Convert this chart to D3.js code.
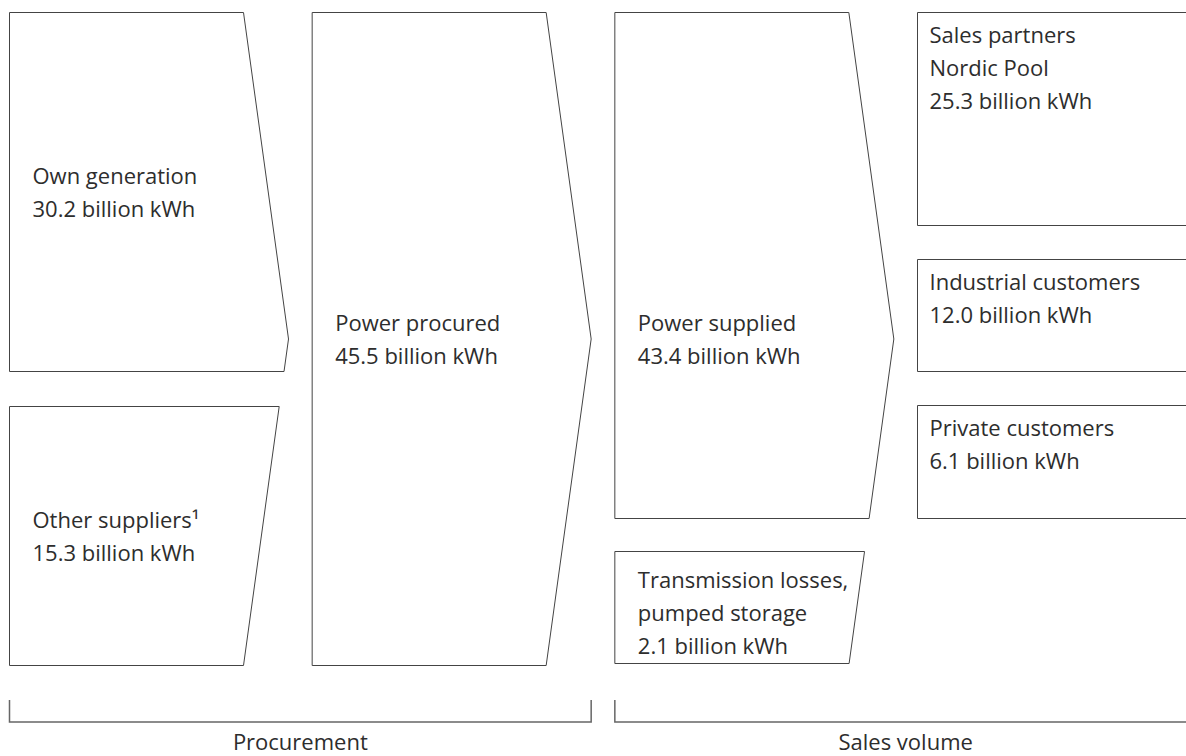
<!DOCTYPE html>
<html>
<head>
<meta charset="utf-8">
<script src="https://cdn.jsdelivr.net/npm/d3@7"></script>
<style>
	body { margin: 0; background: #fff; }
	.box { fill: #fff; stroke: #444; stroke-width: 1px; }
	.bracket { fill: none; stroke: #666; stroke-width: 1.5px; }
	text { font-family: "Open Sans", "Noto Sans", sans-serif; font-size: 22px; fill: #2d2d2d; }
</style>
</head>
<body>
<script>

// data
var nodeLabels = [
	["Own generation"],
	["Other suppliers\u00b9"],
	["Power procured"],
	["Power supplied"],
	["Transmission losses,", "pumped storage"],
	["Sales partners", "Nordic Pool"],
	["Industrial customers"],
	["Private customers"]
];
var nodeValues = [30.2, 15.3, 45.5, 43.4, 2.1, 25.3, 12.0, 6.1];
var groupLabels = ["Procurement", "Sales volume"];
var unit = " billion kWh";

// layout (design grid, not data); tm = middle of the text block
var layout = [
	{ col: 0, y0: 0,   y1: 359, tm: 179.5, shape: "chevron" },
	{ col: 0, y0: 394, y1: 653, tm: 523.5, shape: "chevron" },
	{ col: 1, y0: 0,   y1: 653, tm: 326.5, shape: "chevron" },
	{ col: 2, y0: 0,   y1: 506, tm: 326.5, shape: "chevron" },
	{ col: 2, y0: 539, y1: 651, tm: 600,   shape: "chevron" },
	{ col: 3, y0: 0,   y1: 213, shape: "rect" },
	{ col: 3, y0: 247, y1: 359, shape: "rect" },
	{ col: 3, y0: 393, y1: 506, shape: "rect" }
];
var groupCols = [0, 2];

var width = 1186,
	height = 756,
	bodyW = 234,
	tipDx = 45,
	lineH = 33,
	fmt = d3.format(".1f");

var x = d3.scaleLinear().domain([0, 3]).range([9.5, 917.5]);
var y = d3.scaleLinear().domain([0, 653]).range([12.5, 665.5]);
var tipY = y(653 / 2),
	halfH = y(653) - tipY;

function rightEdge(x0, yy) {
	return x0 + bodyW + tipDx * (1 - Math.abs(yy - tipY) / halfH);
}

var nodes = nodeValues.map(function(v, i) {
	var l = layout[i];
	return { lines: nodeLabels[i], value: v, col: l.col, y0: l.y0, y1: l.y1, tm: l.tm, shape: l.shape };
});

var svg = d3.select("body").append("svg")
	.attr("width", width)
	.attr("height", height);

var line = d3.line();

svg.selectAll("path.box")
	.data(nodes)
  .enter().append("path")
	.attr("class", "box")
	.attr("d", function(d) {
		var x0 = x(d.col), top = y(d.y0), bot = y(d.y1), pts;
		if (d.shape === "rect") {
			pts = [[x0, top], [x0 + 320, top], [x0 + 320, bot], [x0, bot]];
		} else {
			pts = [[x0, top], [rightEdge(x0, top), top]];
			if (top < tipY && bot > tipY) pts.push([x0 + bodyW + tipDx, tipY]);
			pts.push([rightEdge(x0, bot), bot], [x0, bot]);
		}
		return line(pts) + "Z";
	});

var labels = svg.selectAll("text.node")
	.data(nodes)
  .enter().append("text")
	.attr("class", "node")
	.attr("x", function(d) { return x(d.col) + (d.shape === "rect" ? 12 : 23); })
	.attr("y", function(d) {
		var n = d.lines.length + 1;
		if (d.shape === "rect") return y(d.y0) + 30;
		return y(d.tm) - (n - 1) * lineH / 2 + 8;
	});

labels.selectAll("tspan")
	.data(function(d) { return d.lines.concat([fmt(d.value) + unit]); })
  .enter().append("tspan")
	.attr("x", function() { return d3.select(this.parentNode).attr("x"); })
	.attr("dy", function(d, i) { return i === 0 ? 0 : lineH; })
	.text(function(d) { return d; });

// brackets under the two groups
var bracketW = x(1) - x(0) + bodyW + tipDx;
var groups = groupLabels.map(function(g, i) { return { label: g, x0: x(groupCols[i]) }; });

svg.selectAll("path.bracket")
	.data(groups)
  .enter().append("path")
	.attr("class", "bracket")
	.attr("d", function(d) {
		return "M" + d.x0 + ",700 V722 H" + (d.x0 + bracketW) + " V700";
	});

svg.selectAll("text.group")
	.data(groups)
  .enter().append("text")
	.attr("class", "group")
	.attr("text-anchor", "middle")
	.attr("x", function(d) { return d.x0 + bracketW / 2; })
	.attr("y", 750)
	.text(function(d) { return d.label; });

</script>
</body>
</html>
